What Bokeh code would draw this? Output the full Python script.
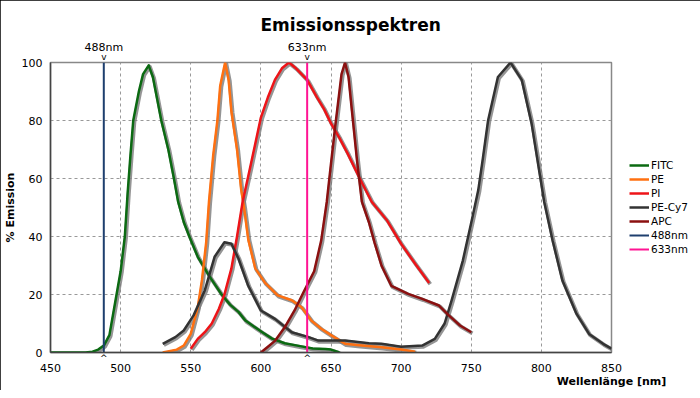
from bokeh.plotting import figure
from bokeh.models import (Range1d, Legend, LegendItem, FixedTicker, Title, ColumnDataSource, LinearAxis)
from bokeh.transform import dodge
from bokeh.embed import file_html
from bokeh.resources import INLINE

# ---------------- data ----------------
fitc_nm = [450, 475, 480, 484, 488, 492, 496, 500, 503, 505, 507, 509, 513, 516, 520, 523, 525, 529,
           534, 538, 541, 545, 549, 555, 563, 572, 578, 584, 589, 594, 601, 608, 617, 628, 637, 646, 650, 656]
fitc_val = [0, 0, 0.3, 1, 2.4, 6, 17, 28, 40, 55, 68, 80, 90, 96, 99, 95, 90, 80,
            70, 60, 52, 45, 40, 33, 26.5, 20, 16.5, 14, 11, 9.3, 7, 4.8, 3.2, 2.2, 1.4, 1.2, 1.0, 0]

pe_nm = [530, 540, 545, 550, 555, 558, 561, 563, 566, 569, 571, 574.5, 577, 579, 583, 586, 588, 591,
         596, 603, 612, 622, 629, 636, 643, 650, 660, 670, 686, 700, 710]
pe_val = [0, 1, 2.4, 6.4, 15.6, 25, 38, 52, 68, 80, 92, 100, 94, 83, 70, 56, 50, 39,
          29, 24, 19.7, 18, 15.6, 11, 8.2, 6, 3, 2.5, 1.8, 1, 0.3]

pi_nm = [550, 555, 560, 565, 570, 574, 579, 583, 587, 592, 596, 600, 605, 610, 615, 620, 625, 633,
         640, 645, 650, 656, 662, 670, 679, 690, 700, 710, 720]
pi_val = [1.3, 4.7, 7, 10, 15, 20, 29, 40, 52, 63, 72, 81, 88, 94, 98, 100, 98, 94,
          88, 84, 79, 74, 68.5, 60.5, 52, 45.5, 37.5, 30.6, 24]

cy7_nm = [530, 539, 545, 552, 560, 567, 574, 579, 584, 591, 600, 610, 622, 634, 641, 660, 677, 686,
          700, 715, 724, 731, 736, 744, 751, 755, 758, 762, 769, 778, 786, 793, 802, 808, 815, 825,
          834, 844, 850]
cy7_val = [3, 5.3, 7.6, 12.8, 21.4, 33, 38, 37.5, 32.4, 23, 14.5, 11.6, 7, 5.3, 4.1, 4.1, 3.2, 3,
           2, 2.4, 4.7, 10, 18, 31.7, 47, 56, 66, 80, 95, 100, 94, 79, 52, 38.6, 24.8, 13.4,
           6.4, 3, 1.3]

apc_nm = [600, 605, 610, 617, 624, 631, 638, 643, 647, 649.5, 653, 657.5, 660, 662.5, 665, 668.6,
          672, 677, 681, 686, 693, 705, 715, 727, 734, 742, 750]
apc_val = [0, 2, 4, 8.7, 14.5, 21.4, 28, 38.6, 52, 63, 78, 96, 100, 95, 83, 66,
           52, 45, 38, 30, 23, 20.2, 18.5, 16.2, 12.8, 9.3, 7]

laser_nm = [488, 633]
laser_labels = ["488nm", "633nm"]
laser_bottom = [0, 0]
laser_top = [100, 100]

x_ticks = [450, 500, 550, 600, 650, 700, 750, 800, 850]
y_ticks = [0, 20, 40, 60, 80, 100]

series = [
    ("FITC", fitc_nm, fitc_val, "#0b6a12"),
    ("PE", pe_nm, pe_val, "#ff7011"),
    ("PI", pi_nm, pi_val, "#ee1418"),
    ("PE-Cy7", cy7_nm, cy7_val, "#333333"),
    ("APC", apc_nm, apc_val, "#8b1010"),
]
laser_colors = ["#1e3f6e", "#ff1493"]

FONT = "DejaVu Sans"

p = figure(frame_width=561, frame_height=290, output_backend="svg", toolbar_location=None,
           x_range=Range1d(450, 850), y_range=Range1d(0, 100),
           min_border_left=44, min_border_right=79, min_border_top=62, min_border_bottom=38)
p.styles = {"outline": "1px solid #000", "outline-offset": "-1px"}

p.title = Title(text="Emissionsspektren", align="left", offset=210, standoff=5,
                text_font=FONT, text_font_size="17px", text_font_style="bold", text_color="#000")


def style_axis(ax, size="11px"):
    ax.major_tick_line_color = None
    ax.minor_tick_line_color = None
    ax.major_tick_out = 0
    ax.major_tick_in = 0
    ax.minor_tick_out = 0
    ax.minor_tick_in = 0
    ax.major_label_text_font = FONT
    ax.major_label_text_font_size = size
    ax.major_label_text_color = "#000"
    ax.axis_label_text_font = FONT
    ax.axis_label_text_font_size = "11px"
    ax.axis_label_text_font_style = "bold"
    ax.axis_label_text_color = "#000"


# main axes
xax = p.xaxis[0]
yax = p.yaxis[0]
style_axis(xax)
style_axis(yax)
yax.axis_line_color = "#444444"
yax.axis_line_width = 1.5
xax.axis_line_color = None
xax.ticker = FixedTicker(ticks=x_ticks)
yax.ticker = FixedTicker(ticks=y_ticks)
xax.major_label_standoff = -2
yax.major_label_standoff = 8
xax.axis_label = "Wellenlänge [nm]"
xax.axis_label_align = "end"
xax.axis_label_standoff = 0
yax.axis_label = "% Emission"
yax.axis_label_standoff = 2

# laser markers below the frame (nearest to the frame, before the main axis)
caret_axis = LinearAxis(ticker=FixedTicker(ticks=laser_nm),
                        major_label_overrides={nm: "^" for nm in laser_nm})
style_axis(caret_axis, "9px")
caret_axis.axis_line_color = "#444444"
caret_axis.axis_line_width = 1.5
caret_axis.major_label_standoff = 0
p.below = [caret_axis] + list(p.below)

# laser markers above the frame
v_axis = LinearAxis(ticker=FixedTicker(ticks=laser_nm),
                    major_label_overrides={nm: "v" for nm in laser_nm})
style_axis(v_axis, "9px")
v_axis.axis_line_color = None
v_axis.major_label_standoff = 1
p.add_layout(v_axis, "above")

lab_axis = LinearAxis(ticker=FixedTicker(ticks=laser_nm),
                      major_label_overrides=dict(zip(laser_nm, laser_labels)))
style_axis(lab_axis, "11px")
lab_axis.axis_line_color = None
lab_axis.major_label_standoff = -5
p.add_layout(lab_axis, "above")

p.xgrid.ticker = FixedTicker(ticks=x_ticks)
p.xgrid.grid_line_color = "#999999"
p.ygrid.grid_line_color = "#999999"
p.xgrid.grid_line_dash = "3 3"
p.ygrid.grid_line_dash = "3 3"
p.outline_line_color = "#888888"
p.outline_line_width = 1.5

items = []
for name, xs, ys, col in series:
    src = ColumnDataSource(dict(x=xs, y=ys))
    p.line(x=dodge("x", 0.8, range=p.x_range), y=dodge("y", -0.4, range=p.y_range), source=src,
           line_color="#7a7a7a", line_width=4, line_alpha=0.8, line_join="round")
for name, xs, ys, col in series:
    src = ColumnDataSource(dict(x=xs, y=ys))
    r = p.line(x="x", y="y", source=src, line_color=col, line_width=2.5, line_join="round")
    items.append(LegendItem(label=name, renderers=[r]))

for nm, lab, b, t, col in zip(laser_nm, laser_labels, laser_bottom, laser_top, laser_colors):
    r = p.line(x=[nm, nm], y=[b, t], line_color=col, line_width=2)
    items.append(LegendItem(label=lab, renderers=[r]))

legend = Legend(items=items, location=(18, 97), label_text_font=FONT, label_text_font_size="10.5px",
                label_text_color="#000", glyph_width=20, glyph_height=12, label_height=12,
                label_standoff=2, spacing=2, padding=0, margin=0,
                border_line_color=None, background_fill_alpha=0)
p.add_layout(legend, "right")

open("out.html", "w").write(file_html(p, INLINE))
